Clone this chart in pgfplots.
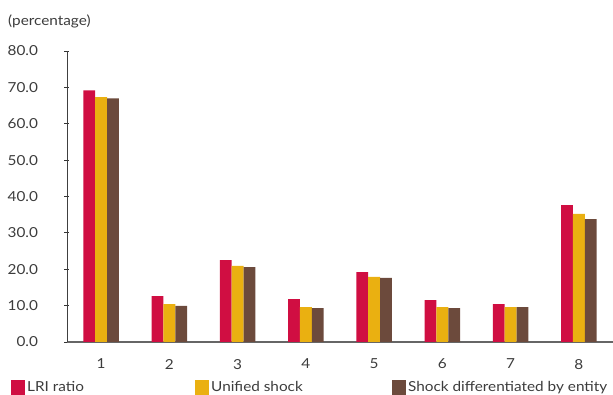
\documentclass[border=0pt]{standalone}
\usepackage{fontspec}
\setmainfont{Lato}[FakeStretch=1.11]
\usepackage{pgfplots}
\pgfplotsset{compat=1.18}
\definecolor{cred}{RGB}{208,14,66}
\definecolor{cyel}{RGB}{234,176,17}
\definecolor{cbrn}{RGB}{108,74,60}
\definecolor{ctxt}{RGB}{60,60,60}
\begin{document}
\begin{tikzpicture}[font=\fontsize{13.8}{15}\selectfont]
\begin{axis}[
  scale only axis, width=546pt, height=291pt,
  xmin=-0.5, xmax=7.5, ymin=0, ymax=80,
  ybar=0pt, bar width=11.8pt,
  ytick={0,10,...,80},
  yticklabel style={/pgf/number format/.cd, fixed, fixed zerofill, precision=1, assume math mode=true},
  ticklabel style={text=ctxt},
  xtick={0,...,7}, xticklabels={1,2,3,4,5,6,7,8},
  major x tick style={draw=none},
  extra x ticks={0.5,1.5,...,6.5},
  extra x tick labels={},
  extra x tick style={tick align=inside, tick style={draw=black!80, line width=0.8pt}},
  major tick length=5pt,
  axis x line*=bottom, axis y line*=left,
  x axis line style={-, draw=black!60, line width=1.6pt},
  y axis line style={-, draw=black!75, line width=0.8pt},
  ytick style={draw=black!80, line width=0.8pt},
  tick align=center,
  yticklabel shift=23pt,
  xticklabel shift=11pt,
  clip=false,
  legend columns=3,
  legend style={draw=none, at={(rel axis cs:0,0)}, anchor=north west, xshift=-56pt, yshift=-37pt,
    /tikz/every even column/.append style={column sep=4pt},
    inner sep=0pt, row sep=0pt, text=ctxt},
  legend image code/.code={\fill[#1] (0cm,-7.5pt) rectangle (14pt,7.5pt);},
]
\addplot[fill=cred, draw=none] coordinates {(0,69.2) (1,12.6) (2,22.5) (3,11.8) (4,19.2) (5,11.5) (6,10.4) (7,37.6)};
\addplot[fill=cyel, draw=none] coordinates {(0,67.3) (1,10.4) (2,20.9) (3,9.6) (4,17.9) (5,9.6) (6,9.6) (7,35.2)};
\addplot[fill=cbrn, draw=none] coordinates {(0,67.0) (1,9.9) (2,20.6) (3,9.3) (4,17.6) (5,9.3) (6,9.6) (7,33.8)};
\addlegendentry{\makebox[162pt][l]{LRI ratio}}
\addlegendentry{\makebox[175pt][l]{Unified shock}}
\addlegendentry{Shock differentiated by entity}
\node[anchor=base west, text=ctxt, inner sep=0pt] at (rel axis cs:0,1) [xshift=-59pt, yshift=26pt] {(percentage)};
\coordinate (bl) at (rel axis cs:0,0);
\coordinate (tr) at (rel axis cs:1,1);
\end{axis}
\pgfresetboundingbox
\path ([xshift=-67pt,yshift=-53pt]bl) rectangle ([yshift=51pt]tr);
\end{tikzpicture}
\end{document}
